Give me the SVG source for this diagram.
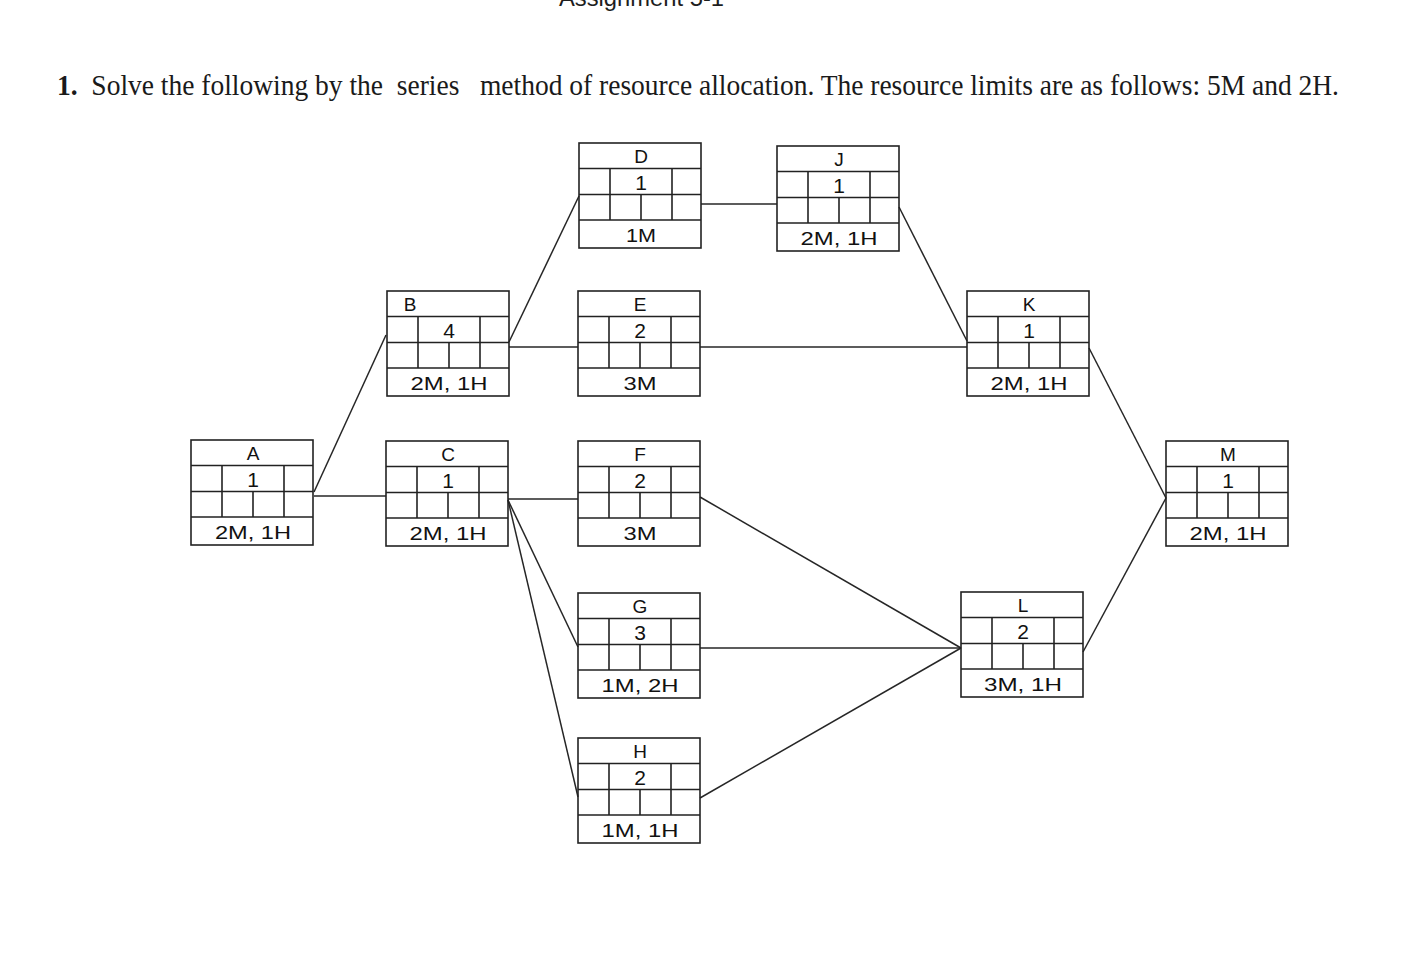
<svg xmlns="http://www.w3.org/2000/svg" xmlns:xlink="http://www.w3.org/1999/xlink" width="1415" height="980" viewBox="0 0 1415 980">
<style>
.grid{fill:none;stroke:#222;stroke-width:1.6}
.conn line{stroke:#262626;stroke-width:1.5}
.t{font-family:"Liberation Sans",Arial,sans-serif;fill:#111;text-anchor:middle}
.lbl{font-size:19px}
.num{font-size:21px}
.res{font-size:19px}
.head{font-family:"Liberation Serif","Times New Roman",serif;font-size:29px;fill:#1a1a1a}
.top{font-family:"Liberation Sans",Arial,sans-serif;font-size:24px;fill:#1e1e1e}
</style>
<defs>
<g id="box">
<rect x="0" y="0" width="122" height="105" class="grid"/>
<path class="grid" d="M0 25.5H122M0 51.5H122M0 77H122M31 25.5V77M93 25.5V77M62 51.5V77"/>
</g>
</defs>
<rect width="1415" height="980" fill="#ffffff"/>
<text class="top" x="559" y="6" textLength="165" lengthAdjust="spacingAndGlyphs">Assignment 5-1</text>
<text class="head" x="57" y="95" xml:space="preserve" textLength="1282" lengthAdjust="spacingAndGlyphs"><tspan font-weight="bold">1.</tspan>  Solve the following by the  series   method of resource allocation. The resource limits are as follows: 5M and 2H.</text>
<g id="connectors" class="conn">
<line x1="314" y1="492" x2="386" y2="335"/>
<line x1="314" y1="496" x2="386" y2="496"/>
<line x1="509" y1="342" x2="579" y2="196"/>
<line x1="509" y1="347" x2="578" y2="347"/>
<line x1="508" y1="499" x2="578" y2="499"/>
<line x1="508" y1="500" x2="578" y2="647"/>
<line x1="508" y1="500" x2="578" y2="797"/>
<line x1="701" y1="204" x2="777" y2="204"/>
<line x1="700" y1="347" x2="967" y2="347"/>
<line x1="899" y1="207" x2="967" y2="341"/>
<line x1="700" y1="497" x2="961" y2="648"/>
<line x1="700" y1="648" x2="961" y2="648"/>
<line x1="700" y1="798" x2="961" y2="648"/>
<line x1="1089" y1="348" x2="1166" y2="498"/>
<line x1="1083" y1="652" x2="1166" y2="498"/>
</g>
<g id="node-A" transform="translate(191,440)">
<use xlink:href="#box"/>
<text class="t lbl" x="62" y="20">A</text>
<text class="t num" x="62" y="47">1</text>
<text class="t res" x="62" y="99" textLength="76" lengthAdjust="spacingAndGlyphs">2M, 1H</text>
</g>
<g id="node-B" transform="translate(387,291)">
<use xlink:href="#box"/>
<text class="t lbl" x="23" y="20">B</text>
<text class="t num" x="62" y="47">4</text>
<text class="t res" x="62" y="99" textLength="77" lengthAdjust="spacingAndGlyphs">2M, 1H</text>
</g>
<g id="node-C" transform="translate(386,441)">
<use xlink:href="#box"/>
<text class="t lbl" x="62" y="20">C</text>
<text class="t num" x="62" y="47">1</text>
<text class="t res" x="62" y="99" textLength="77" lengthAdjust="spacingAndGlyphs">2M, 1H</text>
</g>
<g id="node-D" transform="translate(579,143)">
<use xlink:href="#box"/>
<text class="t lbl" x="62" y="20">D</text>
<text class="t num" x="62" y="47">1</text>
<text class="t res" x="62" y="99" textLength="30" lengthAdjust="spacingAndGlyphs">1M</text>
</g>
<g id="node-E" transform="translate(578,291)">
<use xlink:href="#box"/>
<text class="t lbl" x="62" y="20">E</text>
<text class="t num" x="62" y="47">2</text>
<text class="t res" x="62" y="99" textLength="33" lengthAdjust="spacingAndGlyphs">3M</text>
</g>
<g id="node-F" transform="translate(578,441)">
<use xlink:href="#box"/>
<text class="t lbl" x="62" y="20">F</text>
<text class="t num" x="62" y="47">2</text>
<text class="t res" x="62" y="99" textLength="33" lengthAdjust="spacingAndGlyphs">3M</text>
</g>
<g id="node-G" transform="translate(578,593)">
<use xlink:href="#box"/>
<text class="t lbl" x="62" y="20">G</text>
<text class="t num" x="62" y="47">3</text>
<text class="t res" x="62" y="99" textLength="77" lengthAdjust="spacingAndGlyphs">1M, 2H</text>
</g>
<g id="node-H" transform="translate(578,738)">
<use xlink:href="#box"/>
<text class="t lbl" x="62" y="20">H</text>
<text class="t num" x="62" y="47">2</text>
<text class="t res" x="62" y="99" textLength="77" lengthAdjust="spacingAndGlyphs">1M, 1H</text>
</g>
<g id="node-J" transform="translate(777,146)">
<use xlink:href="#box"/>
<text class="t lbl" x="62" y="20">J</text>
<text class="t num" x="62" y="47">1</text>
<text class="t res" x="62" y="99" textLength="77" lengthAdjust="spacingAndGlyphs">2M, 1H</text>
</g>
<g id="node-K" transform="translate(967,291)">
<use xlink:href="#box"/>
<text class="t lbl" x="62" y="20">K</text>
<text class="t num" x="62" y="47">1</text>
<text class="t res" x="62" y="99" textLength="77" lengthAdjust="spacingAndGlyphs">2M, 1H</text>
</g>
<g id="node-L" transform="translate(961,592)">
<use xlink:href="#box"/>
<text class="t lbl" x="62" y="20">L</text>
<text class="t num" x="62" y="47">2</text>
<text class="t res" x="62" y="99" textLength="78" lengthAdjust="spacingAndGlyphs">3M, 1H</text>
</g>
<g id="node-M" transform="translate(1166,441)">
<use xlink:href="#box"/>
<text class="t lbl" x="62" y="20">M</text>
<text class="t num" x="62" y="47">1</text>
<text class="t res" x="62" y="99" textLength="77" lengthAdjust="spacingAndGlyphs">2M, 1H</text>
</g>
</svg>
